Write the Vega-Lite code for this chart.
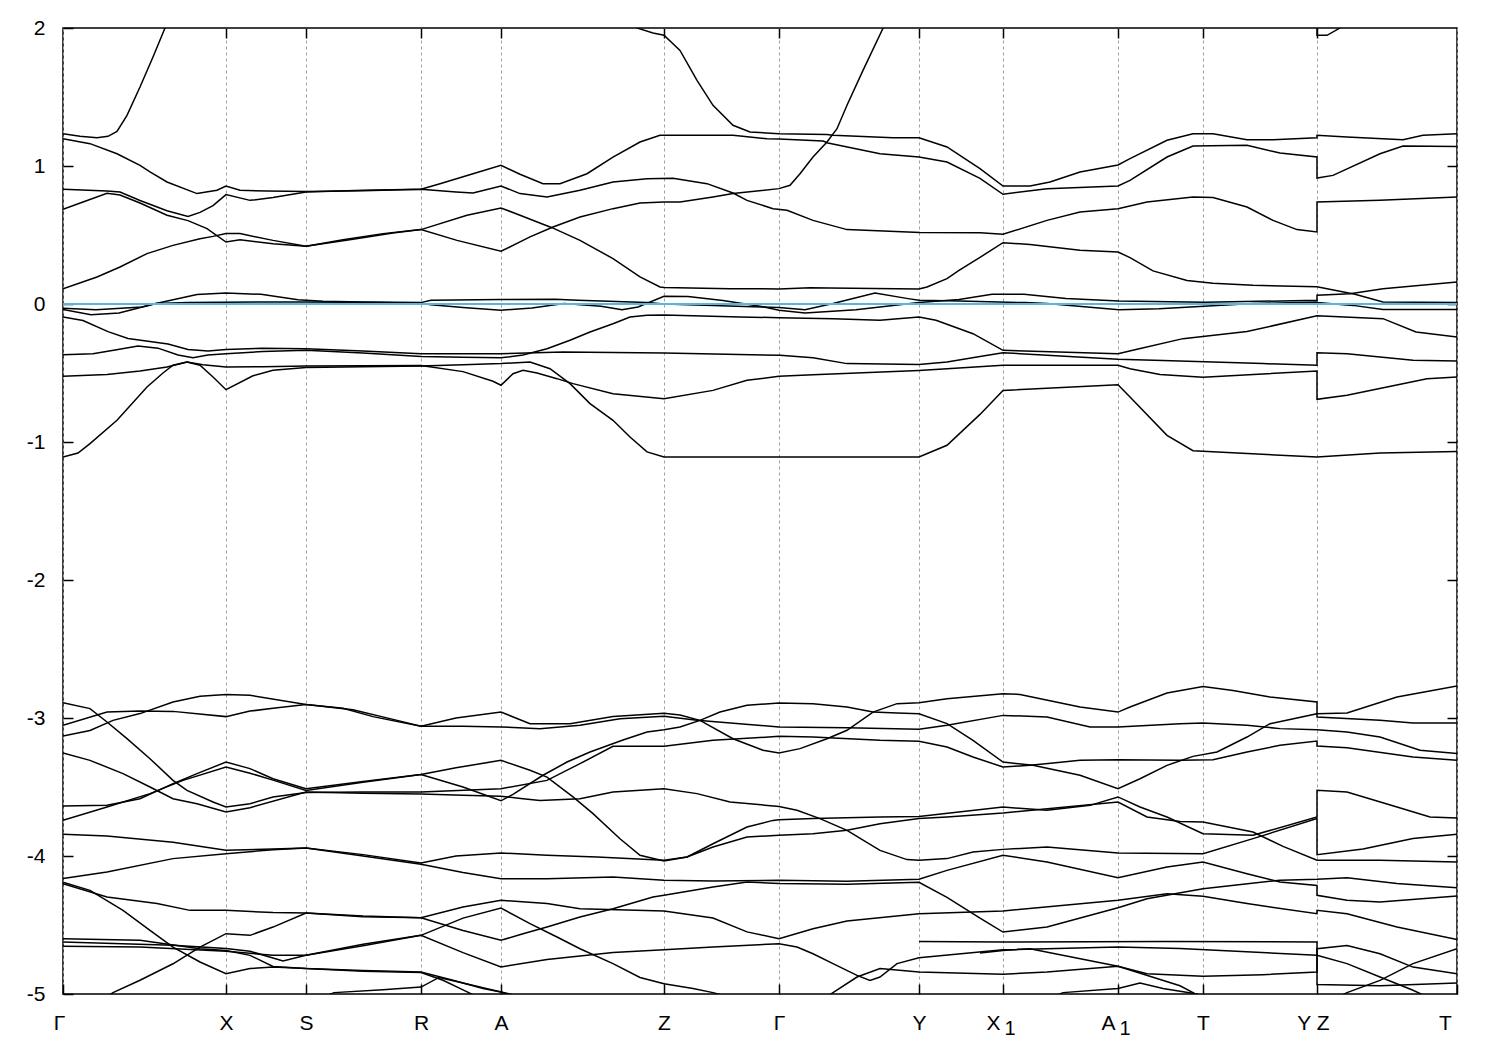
{
"$schema":"https://vega.github.io/schema/vega-lite/v6.json",
"width":1394,"height":966,
"autosize":{"type":"none"},
"padding":{"left":63,"top":28,"right":43,"bottom":56},
"background":"white",
"config":{"view":{"stroke":"#000","strokeWidth":1.5},"font":"Liberation Sans"},
"datasets":{
"bands":[
{"s":"L1","k":0,"e":1.234},{"s":"L1","k":17,"e":1.215},{"s":"L1","k":34,"e":1.205},{"s":"L1","k":45,"e":1.215},{"s":"L1","k":54,"e":1.25},{"s":"L1","k":64,"e":1.367},{"s":"L1","k":77,"e":1.572},{"s":"L1","k":90,"e":1.79},{"s":"L1","k":102,"e":2.0},{"s":"L1","k":115,"e":2.3},
{"s":"L0","k":560,"e":2.3},{"s":"L0","k":574,"e":2.0},{"s":"L0","k":590,"e":1.964},{"s":"L0","k":601,"e":1.947},{"s":"L0","k":617,"e":1.838},{"s":"L0","k":634,"e":1.621},{"s":"L0","k":650,"e":1.44},{"s":"L0","k":670,"e":1.295},{"s":"L0","k":687,"e":1.246},{"s":"L0","k":716,"e":1.234},{"s":"L0","k":764,"e":1.229},{"s":"L0","k":770,"e":1.222},{"s":"L0","k":830,"e":1.205},{"s":"L0","k":856,"e":1.205},{"s":"L0","k":884,"e":1.138},{"s":"L0","k":917,"e":0.981},{"s":"L0","k":940,"e":0.855},{"s":"L0","k":967,"e":0.855},{"s":"L0","k":987,"e":0.884},{"s":"L0","k":1017,"e":0.957},{"s":"L0","k":1055,"e":1.007},{"s":"L0","k":1067,"e":1.053},{"s":"L0","k":1104,"e":1.186},{"s":"L0","k":1130,"e":1.234},{"s":"L0","k":1150,"e":1.234},{"s":"L0","k":1184,"e":1.191},{"s":"L0","k":1210,"e":1.191},{"s":"L0","k":1254,"e":1.205},{"s":"L0","k":1254,"e":1.222},{"s":"L0","k":1284,"e":1.21},{"s":"L0","k":1340,"e":1.191},{"s":"L0","k":1360,"e":1.222},{"s":"L0","k":1394,"e":1.234},
{"s":"L2","k":0,"e":1.198},{"s":"L2","k":27,"e":1.162},{"s":"L2","k":54,"e":1.089},{"s":"L2","k":77,"e":1.005},{"s":"L2","k":87,"e":0.957},{"s":"L2","k":104,"e":0.884},{"s":"L2","k":134,"e":0.8},{"s":"L2","k":154,"e":0.824},{"s":"L2","k":163,"e":0.855},{"s":"L2","k":177,"e":0.824},{"s":"L2","k":204,"e":0.819},{"s":"L2","k":243,"e":0.816},{"s":"L2","k":300,"e":0.82},{"s":"L2","k":358,"e":0.831},{"s":"L2","k":377,"e":0.872},{"s":"L2","k":410,"e":0.944},{"s":"L2","k":438,"e":1.005},{"s":"L2","k":457,"e":0.94},{"s":"L2","k":480,"e":0.872},{"s":"L2","k":497,"e":0.872},{"s":"L2","k":524,"e":0.944},{"s":"L2","k":550,"e":1.065},{"s":"L2","k":577,"e":1.174},{"s":"L2","k":597,"e":1.222},{"s":"L2","k":601,"e":1.222},{"s":"L2","k":670,"e":1.222},{"s":"L2","k":704,"e":1.198},{"s":"L2","k":716,"e":1.196},{"s":"L2","k":760,"e":1.181},{"s":"L2","k":765,"e":1.167},{"s":"L2","k":817,"e":1.089},{"s":"L2","k":856,"e":1.065},{"s":"L2","k":884,"e":1.029},{"s":"L2","k":917,"e":0.91},{"s":"L2","k":940,"e":0.795},{"s":"L2","k":984,"e":0.836},{"s":"L2","k":1055,"e":0.855},{"s":"L2","k":1067,"e":0.896},{"s":"L2","k":1104,"e":1.065},{"s":"L2","k":1130,"e":1.145},{"s":"L2","k":1184,"e":1.15},{"s":"L2","k":1217,"e":1.094},{"s":"L2","k":1254,"e":1.065},{"s":"L2","k":1254,"e":0.913},{"s":"L2","k":1270,"e":0.932},{"s":"L2","k":1317,"e":1.089},{"s":"L2","k":1340,"e":1.145},{"s":"L2","k":1394,"e":1.142},
{"s":"L3","k":0,"e":0.831},{"s":"L3","k":44,"e":0.819},{"s":"L3","k":57,"e":0.812},{"s":"L3","k":77,"e":0.75},{"s":"L3","k":104,"e":0.676},{"s":"L3","k":125,"e":0.635},{"s":"L3","k":137,"e":0.664},{"s":"L3","k":150,"e":0.713},{"s":"L3","k":163,"e":0.793},{"s":"L3","k":187,"e":0.751},{"s":"L3","k":210,"e":0.771},{"s":"L3","k":243,"e":0.812},{"s":"L3","k":300,"e":0.824},{"s":"L3","k":358,"e":0.831},{"s":"L3","k":393,"e":0.812},{"s":"L3","k":410,"e":0.804},{"s":"L3","k":438,"e":0.855},{"s":"L3","k":457,"e":0.8},{"s":"L3","k":484,"e":0.775},{"s":"L3","k":517,"e":0.824},{"s":"L3","k":550,"e":0.884},{"s":"L3","k":584,"e":0.908},{"s":"L3","k":610,"e":0.912},{"s":"L3","k":644,"e":0.872},{"s":"L3","k":670,"e":0.804},{"s":"L3","k":684,"e":0.751},{"s":"L3","k":710,"e":0.691},{"s":"L3","k":724,"e":0.679},{"s":"L3","k":750,"e":0.606},{"s":"L3","k":784,"e":0.539},{"s":"L3","k":857,"e":0.519},{"s":"L3","k":917,"e":0.517},{"s":"L3","k":940,"e":0.505},{"s":"L3","k":984,"e":0.606},{"s":"L3","k":1017,"e":0.667},{"s":"L3","k":1055,"e":0.691},{"s":"L3","k":1084,"e":0.739},{"s":"L3","k":1130,"e":0.775},{"s":"L3","k":1150,"e":0.771},{"s":"L3","k":1184,"e":0.703},{"s":"L3","k":1210,"e":0.606},{"s":"L3","k":1234,"e":0.539},{"s":"L3","k":1254,"e":0.522},{"s":"L3","k":1254,"e":0.739},{"s":"L3","k":1317,"e":0.751},{"s":"L3","k":1394,"e":0.775},
{"s":"L4","k":0,"e":0.686},{"s":"L4","k":20,"e":0.739},{"s":"L4","k":44,"e":0.802},{"s":"L4","k":57,"e":0.79},{"s":"L4","k":77,"e":0.732},{"s":"L4","k":104,"e":0.643},{"s":"L4","k":125,"e":0.604},{"s":"L4","k":144,"e":0.546},{"s":"L4","k":163,"e":0.449},{"s":"L4","k":177,"e":0.466},{"s":"L4","k":210,"e":0.437},{"s":"L4","k":243,"e":0.418},{"s":"L4","k":280,"e":0.466},{"s":"L4","k":320,"e":0.51},{"s":"L4","k":358,"e":0.539},{"s":"L4","k":404,"e":0.643},{"s":"L4","k":438,"e":0.696},{"s":"L4","k":457,"e":0.643},{"s":"L4","k":489,"e":0.553},{"s":"L4","k":517,"e":0.461},{"s":"L4","k":550,"e":0.329},{"s":"L4","k":577,"e":0.196},{"s":"L4","k":597,"e":0.123},{"s":"L4","k":601,"e":0.12},{"s":"L4","k":667,"e":0.111},{"s":"L4","k":716,"e":0.109},{"s":"L4","k":747,"e":0.118},{"s":"L4","k":766,"e":0.116},{"s":"L4","k":856,"e":0.108},{"s":"L4","k":864,"e":0.123},{"s":"L4","k":884,"e":0.184},{"s":"L4","k":896,"e":0.244},{"s":"L4","k":917,"e":0.338},{"s":"L4","k":940,"e":0.444},{"s":"L4","k":967,"e":0.432},{"s":"L4","k":1017,"e":0.389},{"s":"L4","k":1055,"e":0.377},{"s":"L4","k":1067,"e":0.336},{"s":"L4","k":1090,"e":0.24},{"s":"L4","k":1124,"e":0.17},{"s":"L4","k":1150,"e":0.15},{"s":"L4","k":1190,"e":0.135},{"s":"L4","k":1254,"e":0.125},{"s":"L4","k":1292,"e":0.07},{"s":"L4","k":1320,"e":0.015},{"s":"L4","k":1394,"e":0.01},
{"s":"L5","k":0,"e":0.111},{"s":"L5","k":34,"e":0.196},{"s":"L5","k":57,"e":0.268},{"s":"L5","k":84,"e":0.365},{"s":"L5","k":110,"e":0.425},{"s":"L5","k":137,"e":0.473},{"s":"L5","k":150,"e":0.49},{"s":"L5","k":163,"e":0.51},{"s":"L5","k":177,"e":0.51},{"s":"L5","k":210,"e":0.461},{"s":"L5","k":243,"e":0.418},{"s":"L5","k":290,"e":0.47},{"s":"L5","k":330,"e":0.515},{"s":"L5","k":358,"e":0.539},{"s":"L5","k":394,"e":0.461},{"s":"L5","k":438,"e":0.382},{"s":"L5","k":467,"e":0.486},{"s":"L5","k":490,"e":0.558},{"s":"L5","k":517,"e":0.63},{"s":"L5","k":550,"e":0.691},{"s":"L5","k":577,"e":0.732},{"s":"L5","k":601,"e":0.739},{"s":"L5","k":617,"e":0.739},{"s":"L5","k":650,"e":0.775},{"s":"L5","k":670,"e":0.8},{"s":"L5","k":716,"e":0.836},{"s":"L5","k":727,"e":0.86},{"s":"L5","k":737,"e":0.944},{"s":"L5","k":750,"e":1.065},{"s":"L5","k":764,"e":1.174},{"s":"L5","k":774,"e":1.27},{"s":"L5","k":784,"e":1.44},{"s":"L5","k":800,"e":1.693},{"s":"L5","k":820,"e":1.998},{"s":"L5","k":830,"e":2.2},
{"s":"Ut","k":1254,"e":2.3},{"s":"Ut","k":1254,"e":1.947},{"s":"Ut","k":1264,"e":1.947},{"s":"Ut","k":1277,"e":2.0},{"s":"Ut","k":1290,"e":2.1},
{"s":"F1","k":0,"e":-0.04},{"s":"F1","k":28,"e":-0.077},{"s":"F1","k":56,"e":-0.065},{"s":"F1","k":93,"e":0.003},{"s":"F1","k":134,"e":0.068},{"s":"F1","k":163,"e":0.08},{"s":"F1","k":198,"e":0.07},{"s":"F1","k":235,"e":0.03},{"s":"F1","k":260,"e":0.02},{"s":"F1","k":300,"e":0.015},{"s":"F1","k":358,"e":0.01},{"s":"F1","k":368,"e":0.027},{"s":"F1","k":438,"e":0.032},{"s":"F1","k":492,"e":0.034},{"s":"F1","k":515,"e":0.027},{"s":"F1","k":584,"e":0.01},{"s":"F1","k":601,"e":0.0},{"s":"F1","k":650,"e":-0.01},{"s":"F1","k":690,"e":-0.02},{"s":"F1","k":716,"e":-0.025},{"s":"F1","k":742,"e":-0.041},{"s":"F1","k":770,"e":0.003},{"s":"F1","k":812,"e":0.08},{"s":"F1","k":845,"e":0.039},{"s":"F1","k":856,"e":0.027},{"s":"F1","k":896,"e":0.022},{"s":"F1","k":962,"e":0.01},{"s":"F1","k":984,"e":0.003},{"s":"F1","k":1056,"e":-0.041},{"s":"F1","k":1096,"e":-0.034},{"s":"F1","k":1190,"e":0.003},{"s":"F1","k":1254,"e":0.015},{"s":"F1","k":1254,"e":0.01},{"s":"F1","k":1290,"e":-0.01},{"s":"F1","k":1320,"e":-0.04},{"s":"F1","k":1394,"e":-0.04},
{"s":"F2","k":0,"e":-0.03},{"s":"F2","k":33,"e":-0.041},{"s":"F2","k":79,"e":-0.022},{"s":"F2","k":93,"e":0.003},{"s":"F2","k":125,"e":0.01},{"s":"F2","k":200,"e":0.015},{"s":"F2","k":243,"e":0.015},{"s":"F2","k":318,"e":0.01},{"s":"F2","k":358,"e":0.005},{"s":"F2","k":368,"e":-0.005},{"s":"F2","k":400,"e":-0.026},{"s":"F2","k":438,"e":-0.045},{"s":"F2","k":469,"e":-0.029},{"s":"F2","k":501,"e":0.003},{"s":"F2","k":538,"e":-0.017},{"s":"F2","k":559,"e":-0.041},{"s":"F2","k":575,"e":-0.022},{"s":"F2","k":601,"e":0.056},{"s":"F2","k":625,"e":0.055},{"s":"F2","k":660,"e":0.025},{"s":"F2","k":700,"e":-0.02},{"s":"F2","k":716,"e":-0.045},{"s":"F2","k":742,"e":-0.065},{"s":"F2","k":793,"e":-0.041},{"s":"F2","k":856,"e":0.01},{"s":"F2","k":896,"e":0.032},{"s":"F2","k":929,"e":0.07},{"s":"F2","k":961,"e":0.07},{"s":"F2","k":1003,"e":0.039},{"s":"F2","k":1056,"e":0.022},{"s":"F2","k":1141,"e":0.012},{"s":"F2","k":1254,"e":0.027},{"s":"F2","k":1254,"e":0.063},{"s":"F2","k":1287,"e":0.075},{"s":"F2","k":1320,"e":0.11},{"s":"F2","k":1394,"e":0.16},
{"s":"P1","k":0,"e":-0.094},{"s":"P1","k":20,"e":-0.12},{"s":"P1","k":45,"e":-0.2},{"s":"P1","k":65,"e":-0.25},{"s":"P1","k":85,"e":-0.27},{"s":"P1","k":105,"e":-0.29},{"s":"P1","k":125,"e":-0.33},{"s":"P1","k":145,"e":-0.34},{"s":"P1","k":163,"e":-0.33},{"s":"P1","k":200,"e":-0.32},{"s":"P1","k":243,"e":-0.325},{"s":"P1","k":300,"e":-0.34},{"s":"P1","k":358,"e":-0.36},{"s":"P1","k":400,"e":-0.36},{"s":"P1","k":438,"e":-0.36},{"s":"P1","k":500,"e":-0.348},{"s":"P1","k":601,"e":-0.355},{"s":"P1","k":717,"e":-0.372},{"s":"P1","k":750,"e":-0.389},{"s":"P1","k":784,"e":-0.432},{"s":"P1","k":856,"e":-0.439},{"s":"P1","k":884,"e":-0.42},{"s":"P1","k":917,"e":-0.38},{"s":"P1","k":940,"e":-0.353},{"s":"P1","k":1055,"e":-0.401},{"s":"P1","k":1100,"e":-0.41},{"s":"P1","k":1200,"e":-0.432},{"s":"P1","k":1254,"e":-0.444},{"s":"P1","k":1254,"e":-0.353},{"s":"P1","k":1284,"e":-0.36},{"s":"P1","k":1350,"e":-0.408},{"s":"P1","k":1394,"e":-0.413},
{"s":"P2","k":0,"e":-0.367},{"s":"P2","k":30,"e":-0.36},{"s":"P2","k":55,"e":-0.33},{"s":"P2","k":75,"e":-0.305},{"s":"P2","k":95,"e":-0.32},{"s":"P2","k":115,"e":-0.37},{"s":"P2","k":130,"e":-0.39},{"s":"P2","k":145,"e":-0.37},{"s":"P2","k":163,"e":-0.36},{"s":"P2","k":200,"e":-0.345},{"s":"P2","k":243,"e":-0.335},{"s":"P2","k":300,"e":-0.355},{"s":"P2","k":358,"e":-0.38},{"s":"P2","k":400,"e":-0.385},{"s":"P2","k":438,"e":-0.39},{"s":"P2","k":460,"e":-0.37},{"s":"P2","k":484,"e":-0.324},{"s":"P2","k":507,"e":-0.263},{"s":"P2","k":527,"e":-0.203},{"s":"P2","k":550,"e":-0.143},{"s":"P2","k":567,"e":-0.094},{"s":"P2","k":584,"e":-0.082},{"s":"P2","k":601,"e":-0.08},{"s":"P2","k":677,"e":-0.094},{"s":"P2","k":716,"e":-0.099},{"s":"P2","k":770,"e":-0.106},{"s":"P2","k":817,"e":-0.118},{"s":"P2","k":856,"e":-0.094},{"s":"P2","k":873,"e":-0.118},{"s":"P2","k":910,"e":-0.215},{"s":"P2","k":940,"e":-0.336},{"s":"P2","k":1055,"e":-0.36},{"s":"P2","k":1073,"e":-0.33},{"s":"P2","k":1120,"e":-0.251},{"s":"P2","k":1184,"e":-0.2},{"s":"P2","k":1254,"e":-0.085},{"s":"P2","k":1320,"e":-0.106},{"s":"P2","k":1353,"e":-0.203},{"s":"P2","k":1394,"e":-0.239},
{"s":"P4","k":0,"e":-0.524},{"s":"P4","k":44,"e":-0.51},{"s":"P4","k":77,"e":-0.486},{"s":"P4","k":104,"e":-0.457},{"s":"P4","k":124,"e":-0.42},{"s":"P4","k":140,"e":-0.44},{"s":"P4","k":163,"e":-0.457},{"s":"P4","k":200,"e":-0.455},{"s":"P4","k":243,"e":-0.45},{"s":"P4","k":300,"e":-0.447},{"s":"P4","k":358,"e":-0.445},{"s":"P4","k":400,"e":-0.49},{"s":"P4","k":430,"e":-0.56},{"s":"P4","k":438,"e":-0.589},{"s":"P4","k":450,"e":-0.505},{"s":"P4","k":460,"e":-0.481},{"s":"P4","k":474,"e":-0.5},{"s":"P4","k":494,"e":-0.541},{"s":"P4","k":510,"e":-0.577},{"s":"P4","k":550,"e":-0.65},{"s":"P4","k":601,"e":-0.686},{"s":"P4","k":650,"e":-0.626},{"s":"P4","k":684,"e":-0.553},{"s":"P4","k":716,"e":-0.524},{"s":"P4","k":750,"e":-0.512},{"s":"P4","k":856,"e":-0.481},{"s":"P4","k":940,"e":-0.444},{"s":"P4","k":1055,"e":-0.444},{"s":"P4","k":1067,"e":-0.469},{"s":"P4","k":1097,"e":-0.51},{"s":"P4","k":1140,"e":-0.53},{"s":"P4","k":1254,"e":-0.486},{"s":"P4","k":1254,"e":-0.691},{"s":"P4","k":1284,"e":-0.662},{"s":"P4","k":1324,"e":-0.601},{"s":"P4","k":1364,"e":-0.541},{"s":"P4","k":1394,"e":-0.529},
{"s":"P3","k":0,"e":-1.109},{"s":"P3","k":15,"e":-1.08},{"s":"P3","k":27,"e":-1.012},{"s":"P3","k":54,"e":-0.843},{"s":"P3","k":84,"e":-0.601},{"s":"P3","k":100,"e":-0.5},{"s":"P3","k":110,"e":-0.444},{"s":"P3","k":124,"e":-0.42},{"s":"P3","k":137,"e":-0.444},{"s":"P3","k":150,"e":-0.529},{"s":"P3","k":163,"e":-0.621},{"s":"P3","k":190,"e":-0.52},{"s":"P3","k":210,"e":-0.48},{"s":"P3","k":243,"e":-0.46},{"s":"P3","k":300,"e":-0.455},{"s":"P3","k":358,"e":-0.45},{"s":"P3","k":400,"e":-0.44},{"s":"P3","k":438,"e":-0.432},{"s":"P3","k":467,"e":-0.42},{"s":"P3","k":487,"e":-0.469},{"s":"P3","k":507,"e":-0.577},{"s":"P3","k":527,"e":-0.722},{"s":"P3","k":550,"e":-0.843},{"s":"P3","k":567,"e":-0.964},{"s":"P3","k":584,"e":-1.072},{"s":"P3","k":601,"e":-1.109},{"s":"P3","k":856,"e":-1.109},{"s":"P3","k":884,"e":-1.024},{"s":"P3","k":917,"e":-0.8},{"s":"P3","k":940,"e":-0.626},{"s":"P3","k":1055,"e":-0.585},{"s":"P3","k":1067,"e":-0.674},{"s":"P3","k":1104,"e":-0.952},{"s":"P3","k":1130,"e":-1.063},{"s":"P3","k":1254,"e":-1.109},{"s":"P3","k":1317,"e":-1.08},{"s":"P3","k":1394,"e":-1.068},
{"s":"G1","k":0,"e":-2.89},{"s":"G1","k":27,"e":-2.932},{"s":"G1","k":44,"e":-3.029},{"s":"G1","k":64,"e":-3.15},{"s":"G1","k":87,"e":-3.295},{"s":"G1","k":110,"e":-3.452},{"s":"G1","k":124,"e":-3.524},{"s":"G1","k":150,"e":-3.609},{"s":"G1","k":163,"e":-3.645},{"s":"G1","k":187,"e":-3.621},{"s":"G1","k":210,"e":-3.573},{"s":"G1","k":243,"e":-3.54},{"s":"G1","k":300,"e":-3.537},{"s":"G1","k":358,"e":-3.537},{"s":"G1","k":438,"e":-3.512},{"s":"G1","k":484,"e":-3.452},{"s":"G1","k":517,"e":-3.331},{"s":"G1","k":550,"e":-3.205},{"s":"G1","k":601,"e":-3.205},{"s":"G1","k":650,"e":-3.162},{"s":"G1","k":716,"e":-3.133},{"s":"G1","k":750,"e":-3.138},{"s":"G1","k":817,"e":-3.162},{"s":"G1","k":856,"e":-3.169},{"s":"G1","k":884,"e":-3.21},{"s":"G1","k":910,"e":-3.283},{"s":"G1","k":940,"e":-3.355},{"s":"G1","k":967,"e":-3.343},{"s":"G1","k":1017,"e":-3.307},{"s":"G1","k":1055,"e":-3.302},{"s":"G1","k":1117,"e":-3.307},{"s":"G1","k":1150,"e":-3.302},{"s":"G1","k":1184,"e":-3.246},{"s":"G1","k":1217,"e":-3.198},{"s":"G1","k":1254,"e":-3.167},{"s":"G1","k":1254,"e":-3.203},{"s":"G1","k":1284,"e":-3.215},{"s":"G1","k":1350,"e":-3.283},{"s":"G1","k":1394,"e":-3.307},
{"s":"G2","k":0,"e":-3.053},{"s":"G2","k":44,"e":-2.957},{"s":"G2","k":77,"e":-2.95},{"s":"G2","k":110,"e":-2.952},{"s":"G2","k":163,"e":-2.99},{"s":"G2","k":187,"e":-2.95},{"s":"G2","k":210,"e":-2.93},{"s":"G2","k":243,"e":-2.903},{"s":"G2","k":280,"e":-2.93},{"s":"G2","k":310,"e":-2.99},{"s":"G2","k":358,"e":-3.06},{"s":"G2","k":400,"e":-3.06},{"s":"G2","k":438,"e":-3.065},{"s":"G2","k":477,"e":-3.077},{"s":"G2","k":517,"e":-3.053},{"s":"G2","k":557,"e":-3.005},{"s":"G2","k":601,"e":-2.988},{"s":"G2","k":634,"e":-3.017},{"s":"G2","k":716,"e":-3.065},{"s":"G2","k":784,"e":-3.07},{"s":"G2","k":856,"e":-3.082},{"s":"G2","k":884,"e":-3.053},{"s":"G2","k":940,"e":-2.981},{"s":"G2","k":984,"e":-2.993},{"s":"G2","k":1027,"e":-3.065},{"s":"G2","k":1055,"e":-3.065},{"s":"G2","k":1117,"e":-3.041},{"s":"G2","k":1140,"e":-3.036},{"s":"G2","k":1184,"e":-3.053},{"s":"G2","k":1217,"e":-3.077},{"s":"G2","k":1254,"e":-3.085},{"s":"G2","k":1284,"e":-3.102},{"s":"G2","k":1317,"e":-3.138},{"s":"G2","k":1357,"e":-3.234},{"s":"G2","k":1394,"e":-3.258},
{"s":"G3","k":0,"e":-3.13},{"s":"G3","k":27,"e":-3.09},{"s":"G3","k":50,"e":-3.017},{"s":"G3","k":77,"e":-2.968},{"s":"G3","k":110,"e":-2.884},{"s":"G3","k":137,"e":-2.843},{"s":"G3","k":163,"e":-2.829},{"s":"G3","k":187,"e":-2.835},{"s":"G3","k":243,"e":-2.903},{"s":"G3","k":290,"e":-2.94},{"s":"G3","k":330,"e":-3.01},{"s":"G3","k":358,"e":-3.06},{"s":"G3","k":393,"e":-3.0},{"s":"G3","k":438,"e":-2.957},{"s":"G3","k":467,"e":-3.041},{"s":"G3","k":507,"e":-3.041},{"s":"G3","k":550,"e":-2.99},{"s":"G3","k":601,"e":-2.966},{"s":"G3","k":617,"e":-2.978},{"s":"G3","k":637,"e":-3.017},{"s":"G3","k":670,"e":-3.15},{"s":"G3","k":700,"e":-3.234},{"s":"G3","k":716,"e":-3.254},{"s":"G3","k":737,"e":-3.222},{"s":"G3","k":764,"e":-3.15},{"s":"G3","k":784,"e":-3.089},{"s":"G3","k":810,"e":-2.957},{"s":"G3","k":834,"e":-2.896},{"s":"G3","k":856,"e":-2.889},{"s":"G3","k":884,"e":-2.86},{"s":"G3","k":940,"e":-2.824},{"s":"G3","k":957,"e":-2.829},{"s":"G3","k":1017,"e":-2.92},{"s":"G3","k":1055,"e":-2.957},{"s":"G3","k":1067,"e":-2.92},{"s":"G3","k":1104,"e":-2.819},{"s":"G3","k":1140,"e":-2.771},{"s":"G3","k":1170,"e":-2.8},{"s":"G3","k":1207,"e":-2.848},{"s":"G3","k":1254,"e":-2.884},{"s":"G3","k":1254,"e":-2.969},{"s":"G3","k":1284,"e":-2.964},{"s":"G3","k":1334,"e":-2.848},{"s":"G3","k":1394,"e":-2.768},
{"s":"G4","k":0,"e":-3.253},{"s":"G4","k":27,"e":-3.307},{"s":"G4","k":60,"e":-3.403},{"s":"G4","k":87,"e":-3.5},{"s":"G4","k":110,"e":-3.585},{"s":"G4","k":134,"e":-3.621},{"s":"G4","k":163,"e":-3.681},{"s":"G4","k":187,"e":-3.65},{"s":"G4","k":243,"e":-3.536},{"s":"G4","k":300,"e":-3.545},{"s":"G4","k":358,"e":-3.55},{"s":"G4","k":400,"e":-3.56},{"s":"G4","k":438,"e":-3.567},{"s":"G4","k":460,"e":-3.585},{"s":"G4","k":477,"e":-3.597},{"s":"G4","k":517,"e":-3.585},{"s":"G4","k":550,"e":-3.537},{"s":"G4","k":601,"e":-3.512},{"s":"G4","k":634,"e":-3.548},{"s":"G4","k":667,"e":-3.609},{"s":"G4","k":716,"e":-3.641},{"s":"G4","k":734,"e":-3.669},{"s":"G4","k":757,"e":-3.729},{"s":"G4","k":784,"e":-3.814},{"s":"G4","k":817,"e":-3.959},{"s":"G4","k":844,"e":-4.026},{"s":"G4","k":856,"e":-4.031},{"s":"G4","k":884,"e":-4.019},{"s":"G4","k":910,"e":-3.971},{"s":"G4","k":940,"e":-3.952},{"s":"G4","k":984,"e":-3.935},{"s":"G4","k":1055,"e":-3.978},{"s":"G4","k":1140,"e":-3.983},{"s":"G4","k":1190,"e":-3.874},{"s":"G4","k":1254,"e":-3.729},{"s":"G4","k":1254,"e":-3.99},{"s":"G4","k":1300,"e":-3.95},{"s":"G4","k":1350,"e":-3.874},{"s":"G4","k":1394,"e":-3.843},
{"s":"G5","k":0,"e":-3.638},{"s":"G5","k":44,"e":-3.633},{"s":"G5","k":77,"e":-3.585},{"s":"G5","k":110,"e":-3.476},{"s":"G5","k":134,"e":-3.403},{"s":"G5","k":163,"e":-3.319},{"s":"G5","k":187,"e":-3.367},{"s":"G5","k":210,"e":-3.44},{"s":"G5","k":243,"e":-3.512},{"s":"G5","k":300,"e":-3.46},{"s":"G5","k":358,"e":-3.41},{"s":"G5","k":393,"e":-3.36},{"s":"G5","k":438,"e":-3.307},{"s":"G5","k":467,"e":-3.379},{"s":"G5","k":484,"e":-3.428},{"s":"G5","k":510,"e":-3.572},{"s":"G5","k":530,"e":-3.693},{"s":"G5","k":557,"e":-3.875},{"s":"G5","k":577,"e":-3.995},{"s":"G5","k":601,"e":-4.036},{"s":"G5","k":624,"e":-4.007},{"s":"G5","k":650,"e":-3.911},{"s":"G5","k":684,"e":-3.79},{"s":"G5","k":710,"e":-3.742},{"s":"G5","k":716,"e":-3.737},{"s":"G5","k":750,"e":-3.729},{"s":"G5","k":817,"e":-3.717},{"s":"G5","k":856,"e":-3.713},{"s":"G5","k":940,"e":-3.645},{"s":"G5","k":984,"e":-3.669},{"s":"G5","k":1027,"e":-3.633},{"s":"G5","k":1055,"e":-3.572},{"s":"G5","k":1077,"e":-3.645},{"s":"G5","k":1104,"e":-3.717},{"s":"G5","k":1140,"e":-3.838},{"s":"G5","k":1190,"e":-3.85},{"s":"G5","k":1254,"e":-3.717},{"s":"G5","k":1254,"e":-3.524},{"s":"G5","k":1284,"e":-3.536},{"s":"G5","k":1334,"e":-3.645},{"s":"G5","k":1367,"e":-3.717},{"s":"G5","k":1394,"e":-3.725},
{"s":"G6","k":0,"e":-3.742},{"s":"G6","k":44,"e":-3.645},{"s":"G6","k":87,"e":-3.548},{"s":"G6","k":120,"e":-3.452},{"s":"G6","k":163,"e":-3.355},{"s":"G6","k":187,"e":-3.4},{"s":"G6","k":210,"e":-3.45},{"s":"G6","k":243,"e":-3.525},{"s":"G6","k":300,"e":-3.465},{"s":"G6","k":358,"e":-3.41},{"s":"G6","k":400,"e":-3.5},{"s":"G6","k":438,"e":-3.6},{"s":"G6","k":450,"e":-3.553},{"s":"G6","k":480,"e":-3.415},{"s":"G6","k":504,"e":-3.319},{"s":"G6","k":527,"e":-3.246},{"s":"G6","k":560,"e":-3.16},{"s":"G6","k":584,"e":-3.101},{"s":"G6","k":601,"e":-3.085},{"s":"G6","k":617,"e":-3.065},{"s":"G6","k":637,"e":-3.017},{"s":"G6","k":657,"e":-2.957},{"s":"G6","k":684,"e":-2.908},{"s":"G6","k":716,"e":-2.891},{"s":"G6","k":750,"e":-2.896},{"s":"G6","k":784,"e":-2.92},{"s":"G6","k":810,"e":-2.957},{"s":"G6","k":834,"e":-2.964},{"s":"G6","k":856,"e":-2.969},{"s":"G6","k":884,"e":-3.041},{"s":"G6","k":910,"e":-3.162},{"s":"G6","k":940,"e":-3.319},{"s":"G6","k":970,"e":-3.343},{"s":"G6","k":1017,"e":-3.415},{"s":"G6","k":1055,"e":-3.512},{"s":"G6","k":1077,"e":-3.44},{"s":"G6","k":1104,"e":-3.343},{"s":"G6","k":1130,"e":-3.278},{"s":"G6","k":1154,"e":-3.246},{"s":"G6","k":1184,"e":-3.138},{"s":"G6","k":1207,"e":-3.041},{"s":"G6","k":1254,"e":-2.969},{"s":"G6","k":1254,"e":-2.993},{"s":"G6","k":1317,"e":-3.017},{"s":"G6","k":1350,"e":-3.036},{"s":"G6","k":1394,"e":-3.036},
{"s":"G7","k":0,"e":-3.843},{"s":"G7","k":44,"e":-3.855},{"s":"G7","k":110,"e":-3.9},{"s":"G7","k":163,"e":-3.959},{"s":"G7","k":210,"e":-3.95},{"s":"G7","k":243,"e":-3.942},{"s":"G7","k":300,"e":-3.99},{"s":"G7","k":358,"e":-4.05},{"s":"G7","k":393,"e":-4.0},{"s":"G7","k":438,"e":-3.978},{"s":"G7","k":484,"e":-3.995},{"s":"G7","k":534,"e":-4.007},{"s":"G7","k":601,"e":-4.031},{"s":"G7","k":624,"e":-4.007},{"s":"G7","k":650,"e":-3.935},{"s":"G7","k":684,"e":-3.862},{"s":"G7","k":716,"e":-3.85},{"s":"G7","k":750,"e":-3.838},{"s":"G7","k":784,"e":-3.814},{"s":"G7","k":817,"e":-3.766},{"s":"G7","k":856,"e":-3.729},{"s":"G7","k":884,"e":-3.717},{"s":"G7","k":940,"e":-3.688},{"s":"G7","k":1055,"e":-3.609},{"s":"G7","k":1084,"e":-3.717},{"s":"G7","k":1117,"e":-3.75},{"s":"G7","k":1140,"e":-3.754},{"s":"G7","k":1190,"e":-3.826},{"s":"G7","k":1220,"e":-3.93},{"s":"G7","k":1254,"e":-4.031},{"s":"G7","k":1317,"e":-4.031},{"s":"G7","k":1394,"e":-4.043},
{"s":"G8","k":0,"e":-4.164},{"s":"G8","k":44,"e":-4.116},{"s":"G8","k":110,"e":-4.019},{"s":"G8","k":163,"e":-3.983},{"s":"G8","k":210,"e":-3.955},{"s":"G8","k":243,"e":-3.942},{"s":"G8","k":300,"e":-4.0},{"s":"G8","k":358,"e":-4.06},{"s":"G8","k":400,"e":-4.12},{"s":"G8","k":438,"e":-4.164},{"s":"G8","k":484,"e":-4.164},{"s":"G8","k":550,"e":-4.152},{"s":"G8","k":601,"e":-4.176},{"s":"G8","k":650,"e":-4.181},{"s":"G8","k":716,"e":-4.176},{"s":"G8","k":784,"e":-4.183},{"s":"G8","k":856,"e":-4.169},{"s":"G8","k":884,"e":-4.104},{"s":"G8","k":940,"e":-3.995},{"s":"G8","k":984,"e":-4.044},{"s":"G8","k":1055,"e":-4.157},{"s":"G8","k":1104,"e":-4.079},{"s":"G8","k":1140,"e":-4.043},{"s":"G8","k":1184,"e":-4.128},{"s":"G8","k":1217,"e":-4.188},{"s":"G8","k":1254,"e":-4.213},{"s":"G8","k":1254,"e":-4.285},{"s":"G8","k":1284,"e":-4.321},{"s":"G8","k":1317,"e":-4.333},{"s":"G8","k":1394,"e":-4.29},
{"s":"G9","k":0,"e":-4.2},{"s":"G9","k":44,"e":-4.297},{"s":"G9","k":94,"e":-4.345},{"s":"G9","k":127,"e":-4.394},{"s":"G9","k":163,"e":-4.394},{"s":"G9","k":210,"e":-4.41},{"s":"G9","k":243,"e":-4.413},{"s":"G9","k":300,"e":-4.44},{"s":"G9","k":358,"e":-4.447},{"s":"G9","k":400,"e":-4.37},{"s":"G9","k":438,"e":-4.321},{"s":"G9","k":484,"e":-4.345},{"s":"G9","k":517,"e":-4.382},{"s":"G9","k":601,"e":-4.399},{"s":"G9","k":650,"e":-4.45},{"s":"G9","k":684,"e":-4.55},{"s":"G9","k":716,"e":-4.599},{"s":"G9","k":750,"e":-4.527},{"s":"G9","k":784,"e":-4.471},{"s":"G9","k":856,"e":-4.418},{"s":"G9","k":940,"e":-4.398},{"s":"G9","k":1055,"e":-4.321},{"s":"G9","k":1104,"e":-4.273},{"s":"G9","k":1140,"e":-4.292},{"s":"G9","k":1184,"e":-4.345},{"s":"G9","k":1254,"e":-4.418},{"s":"G9","k":1254,"e":-4.394},{"s":"G9","k":1284,"e":-4.418},{"s":"G9","k":1334,"e":-4.514},{"s":"G9","k":1394,"e":-4.606},
{"s":"G14","k":40,"e":-5.04},{"s":"G14","k":50,"e":-4.99},{"s":"G14","k":77,"e":-4.9},{"s":"G14","k":110,"e":-4.781},{"s":"G14","k":137,"e":-4.66},{"s":"G14","k":163,"e":-4.563},{"s":"G14","k":187,"e":-4.575},{"s":"G14","k":210,"e":-4.515},{"s":"G14","k":243,"e":-4.413},{"s":"G14","k":300,"e":-4.435},{"s":"G14","k":358,"e":-4.447},{"s":"G14","k":400,"e":-4.54},{"s":"G14","k":438,"e":-4.611},{"s":"G14","k":460,"e":-4.563},{"s":"G14","k":484,"e":-4.514},{"s":"G14","k":517,"e":-4.442},{"s":"G14","k":550,"e":-4.382},{"s":"G14","k":590,"e":-4.297},{"s":"G14","k":601,"e":-4.285},{"s":"G14","k":650,"e":-4.225},{"s":"G14","k":684,"e":-4.188},{"s":"G14","k":716,"e":-4.2},{"s":"G14","k":784,"e":-4.205},{"s":"G14","k":856,"e":-4.19},{"s":"G14","k":884,"e":-4.3},{"s":"G14","k":917,"e":-4.45},{"s":"G14","k":940,"e":-4.551},{"s":"G14","k":984,"e":-4.515},{"s":"G14","k":1055,"e":-4.375},{"s":"G14","k":1084,"e":-4.31},{"s":"G14","k":1140,"e":-4.237},{"s":"G14","k":1217,"e":-4.175},{"s":"G14","k":1254,"e":-4.169},{"s":"G14","k":1284,"e":-4.157},{"s":"G14","k":1334,"e":-4.2},{"s":"G14","k":1394,"e":-4.23},
{"s":"G12","k":0,"e":-4.623},{"s":"G12","k":110,"e":-4.647},{"s":"G12","k":163,"e":-4.671},{"s":"G12","k":187,"e":-4.69},{"s":"G12","k":220,"e":-4.76},{"s":"G12","k":243,"e":-4.719},{"s":"G12","k":300,"e":-4.64},{"s":"G12","k":358,"e":-4.575},{"s":"G12","k":400,"e":-4.45},{"s":"G12","k":438,"e":-4.377},{"s":"G12","k":467,"e":-4.49},{"s":"G12","k":494,"e":-4.587},{"s":"G12","k":517,"e":-4.672},{"s":"G12","k":550,"e":-4.78},{"s":"G12","k":577,"e":-4.88},{"s":"G12","k":601,"e":-4.925},{"s":"G12","k":630,"e":-4.96},{"s":"G12","k":650,"e":-4.99},{"s":"G12","k":680,"e":-5.05},
{"s":"G13","k":0,"e":-4.654},{"s":"G13","k":77,"e":-4.66},{"s":"G13","k":163,"e":-4.69},{"s":"G13","k":210,"e":-4.72},{"s":"G13","k":243,"e":-4.719},{"s":"G13","k":300,"e":-4.65},{"s":"G13","k":358,"e":-4.575},{"s":"G13","k":400,"e":-4.7},{"s":"G13","k":438,"e":-4.804},{"s":"G13","k":484,"e":-4.75},{"s":"G13","k":550,"e":-4.7},{"s":"G13","k":601,"e":-4.68},{"s":"G13","k":650,"e":-4.66},{"s":"G13","k":716,"e":-4.636},{"s":"G13","k":734,"e":-4.659},{"s":"G13","k":750,"e":-4.708},{"s":"G13","k":770,"e":-4.78},{"s":"G13","k":794,"e":-4.865},{"s":"G13","k":807,"e":-4.901},{"s":"G13","k":817,"e":-4.877},{"s":"G13","k":834,"e":-4.78},{"s":"G13","k":856,"e":-4.737},{"s":"G13","k":940,"e":-4.68},{"s":"G13","k":1055,"e":-4.66},{"s":"G13","k":1117,"e":-4.67},{"s":"G13","k":1254,"e":-4.72},{"s":"G13","k":1284,"e":-4.78},{"s":"G13","k":1317,"e":-4.877},{"s":"G13","k":1350,"e":-4.973},{"s":"G13","k":1370,"e":-5.04},
{"s":"G10","k":0,"e":-4.19},{"s":"G10","k":27,"e":-4.249},{"s":"G10","k":60,"e":-4.394},{"s":"G10","k":87,"e":-4.539},{"s":"G10","k":110,"e":-4.66},{"s":"G10","k":137,"e":-4.768},{"s":"G10","k":163,"e":-4.853},{"s":"G10","k":187,"e":-4.816},{"s":"G10","k":210,"e":-4.805},{"s":"G10","k":243,"e":-4.816},{"s":"G10","k":300,"e":-4.835},{"s":"G10","k":358,"e":-4.845},{"s":"G10","k":380,"e":-4.9},{"s":"G10","k":400,"e":-4.97},{"s":"G10","k":420,"e":-5.04},
{"s":"G11","k":0,"e":-4.599},{"s":"G11","k":77,"e":-4.611},{"s":"G11","k":137,"e":-4.672},{"s":"G11","k":163,"e":-4.684},{"s":"G11","k":187,"e":-4.72},{"s":"G11","k":210,"e":-4.8},{"s":"G11","k":243,"e":-4.816},{"s":"G11","k":300,"e":-4.83},{"s":"G11","k":358,"e":-4.841},{"s":"G11","k":390,"e":-4.9},{"s":"G11","k":420,"e":-4.96},{"s":"G11","k":438,"e":-4.985},{"s":"G11","k":460,"e":-5.04},
{"s":"G15","k":255,"e":-5.04},{"s":"G15","k":271,"e":-4.99},{"s":"G15","k":320,"e":-4.97},{"s":"G15","k":358,"e":-4.95},{"s":"G15","k":376,"e":-4.88},{"s":"G15","k":400,"e":-4.92},{"s":"G15","k":438,"e":-4.985},{"s":"G15","k":470,"e":-5.04},
{"s":"FB","k":760,"e":-5.04},{"s":"FB","k":770,"e":-4.99},{"s":"FB","k":794,"e":-4.877},{"s":"FB","k":817,"e":-4.816},{"s":"FB","k":856,"e":-4.841},{"s":"FB","k":940,"e":-4.857},{"s":"FB","k":984,"e":-4.84},{"s":"FB","k":1055,"e":-4.799},{"s":"FB","k":1084,"e":-4.853},{"s":"FB","k":1140,"e":-4.872},{"s":"FB","k":1200,"e":-4.86},{"s":"FB","k":1254,"e":-4.841},{"s":"FB","k":1254,"e":-4.672},{"s":"FB","k":1284,"e":-4.648},{"s":"FB","k":1317,"e":-4.708},{"s":"FB","k":1350,"e":-4.805},{"s":"FB","k":1394,"e":-4.853},
{"s":"N11","k":856,"e":-4.62},{"s":"N11","k":940,"e":-4.623},{"s":"N11","k":1100,"e":-4.62},{"s":"N11","k":1254,"e":-4.623},{"s":"N11","k":1254,"e":-4.932},{"s":"N11","k":1317,"e":-4.94},{"s":"N11","k":1394,"e":-4.92},
{"s":"N13","k":917,"e":-4.703},{"s":"N13","k":940,"e":-4.684},{"s":"N13","k":967,"e":-4.672},{"s":"N13","k":1055,"e":-4.799},{"s":"N13","k":1117,"e":-4.94},{"s":"N13","k":1130,"e":-4.99},{"s":"N13","k":1140,"e":-5.04},
{"s":"N15","k":984,"e":-5.04},{"s":"N15","k":1000,"e":-4.99},{"s":"N15","k":1055,"e":-4.96},{"s":"N15","k":1077,"e":-4.92},{"s":"N15","k":1100,"e":-4.96},{"s":"N15","k":1134,"e":-5.0},{"s":"N15","k":1150,"e":-5.05},
{"s":"Z13","k":1270,"e":-5.04},{"s":"Z13","k":1284,"e":-4.99},{"s":"Z13","k":1317,"e":-4.901},{"s":"Z13","k":1350,"e":-4.78},{"s":"Z13","k":1394,"e":-4.671}
],
"fermi":[{"k":0,"e":0},{"k":1394,"e":0}],
"subs":[{"k":940,"t":"1"},{"k":1055,"t":"1"}]
},
"layer":[
{"data":{"name":"bands"},
 "mark":{"type":"line","color":"#000","strokeWidth":1.5,"clip":true},
 "encoding":{
  "x":{"field":"k","type":"quantitative","scale":{"domain":[0,1394],"nice":false,"zero":false},
   "axis":{"orient":"bottom","title":null,"values":[0,163,243,358,438,601,716,856,940,1055,1140,1254,1394],
    "labelExpr":"datum.value==0?'Γ':datum.value==163?'X':datum.value==243?'S':datum.value==358?'R':datum.value==438?'A':datum.value==601?'Z':datum.value==716?'Γ':datum.value==856?'Y':datum.value==940?'X':datum.value==1055?'A':datum.value==1140?'T':datum.value==1254?'Y Z':'T'",
    "labelFlush":false,"labelAlign":"center","labelOffset":{"expr":"datum.value>1390?-12:(datum.value<1?-4:(datum.value==1254?-4:(datum.value==940||datum.value==1055?-10:0)))"},
    "labelFont":"Liberation Sans","labelFontSize":21,"labelColor":"#000","labelPadding":28,"labelAngle":0,
    "tickSize":-10,"tickColor":"#000","tickWidth":1.5,"domain":false,
    "grid":true,"gridColor":"#a0a0a0","gridDash":[3,3],"gridWidth":1}},
  "y":{"field":"e","type":"quantitative","scale":{"domain":[-5,2],"nice":false,"zero":false},
   "axis":{"orient":"left","title":null,"values":[-5,-4,-3,-2,-1,0,1,2],"labelExpr":"''+datum.value",
    "labelFont":"Liberation Sans","labelFontSize":21,"labelColor":"#000","labelPadding":28,
    "tickSize":-10,"tickColor":"#000","tickWidth":1.5,"domain":false,"grid":false}},
  "detail":{"field":"s","type":"nominal"},
  "order":{"value":null}
 }},
{"data":{"name":"fermi"},
 "mark":{"type":"line","color":"#56b4e9","strokeWidth":2,"clip":true},
 "encoding":{
  "x":{"field":"k","type":"quantitative","scale":{"domain":[0,1394],"nice":false,"zero":false},
   "axis":{"orient":"top","title":null,"values":[163,243,358,438,601,716,856,940,1055,1140,1254],"labels":false,"tickSize":-10,"tickColor":"#000","tickWidth":1.5,"domain":false,"grid":false}},
  "y":{"field":"e","type":"quantitative","scale":{"domain":[-5,2],"nice":false,"zero":false},
   "axis":{"orient":"right","title":null,"values":[-4,-3,-2,-1,0,1],"labels":false,"tickSize":-10,"tickColor":"#000","tickWidth":1.5,"domain":false,"grid":false}}
 }},
{"data":{"name":"subs"},
 "mark":{"type":"text","font":"Liberation Sans","fontSize":20,"color":"#000","baseline":"top","align":"center","dx":7,"dy":25,"clip":false},
 "encoding":{
  "x":{"field":"k","type":"quantitative","axis":null},
  "y":{"datum":-5,"axis":null},
  "text":{"field":"t","type":"nominal"}
 }}
],
"resolve":{"axis":{"x":"independent","y":"independent"}}
}
